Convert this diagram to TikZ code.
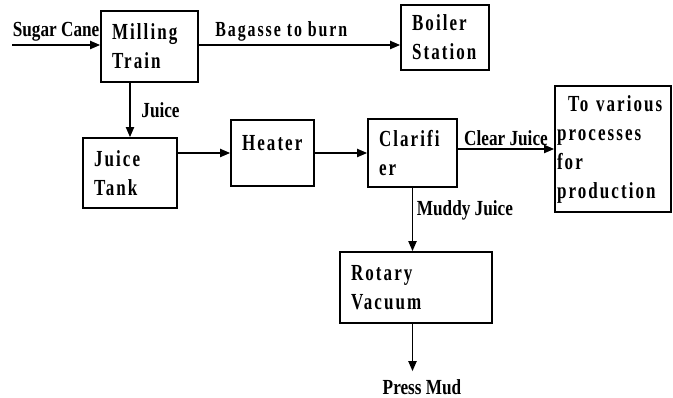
\documentclass[tikz,border=0pt]{standalone}
\usepackage{fontspec}
\setmainfont{Liberation Serif}
\newfontfamily\spacedfont[LetterSpace=9, FakeStretch=0.74]{Liberation Serif}
\newfontfamily\narrowfont[FakeStretch=0.8]{Liberation Serif}
\usepackage{tikz}
\usetikzlibrary{arrows.meta,positioning}

\begin{document}
\begin{tikzpicture}[
  x=1pt, y=-1pt,
  >={Triangle[length=10pt,width=8pt]},
  blk/.style={draw, line width=1.6pt, align=left, inner xsep=11pt, inner ysep=0pt,
              font=\spacedfont\bfseries\fontsize{23}{29}\selectfont},
  flow/.style={->, line width=1.8pt},
  lbl/.style={font=\narrowfont\bfseries\fontsize{21.5}{24}\selectfont, inner sep=2.5pt}
]
\useasboundingbox (0,0) rectangle (673,398);

\node[blk, text width=75pt,  minimum height=71pt] (mill)   at (149.5,46.5) {Milling\\Train};
\node[blk, text width=66pt,  minimum height=65pt] (boiler) at (445,37.5)   {Boiler\\Station};
\node[blk, text width=72pt,  minimum height=70pt] (tank)   at (130,173)    {Juice\\Tank};
\node[blk, text width=61pt,  minimum height=66pt] (heater) at (272.5,153)  {Heater\\[-9pt]\mbox{}};
\node[blk, text width=67pt,  minimum height=68pt] (clar)   at (412.5,153)  {Clarif{}i\\er};
\node[blk, text width=112pt, minimum height=126pt, inner xsep=2pt] (proc) at (613,149)
  {\hspace*{11pt}To various\\processes\\for\\production};
\node[blk, text width=130pt, minimum height=71pt] (rotary) at (416,287.5)  {Rotary\\Vacuum};
\node[lbl, inner sep=1pt] (mud) at (422,387) {Press Mud};
\coordinate (cane) at (12,45);

\draw[flow] (cane) -- node[lbl, above] {Sugar Cane} (cane -| mill.west);
\draw[flow] (cane -| mill.east) -- node[lbl, above, pos=0.41, font=\spacedfont\bfseries\fontsize{21.5}{24}\selectfont] {Bagasse to burn} (cane -| boiler.west);
\draw[flow] (mill.south -| tank.north) -- node[lbl, right=8pt] {Juice} (tank.north);
\draw[flow] (heater.west -| tank.east) -- (heater.west);
\draw[flow] (heater.east) -- (clar.west);
\draw[flow] (proc.west -| clar.east) -- node[lbl, above] {Clear Juice} (proc.west);
\draw[flow] (clar.south) -- node[lbl, right=1pt, pos=0.36] {Muddy Juice} (clar.south |- rotary.north);
\draw[flow, shorten >=7pt] (clar.south |- rotary.south) -- (clar.south |- mud.north);
\end{tikzpicture}
\end{document}
